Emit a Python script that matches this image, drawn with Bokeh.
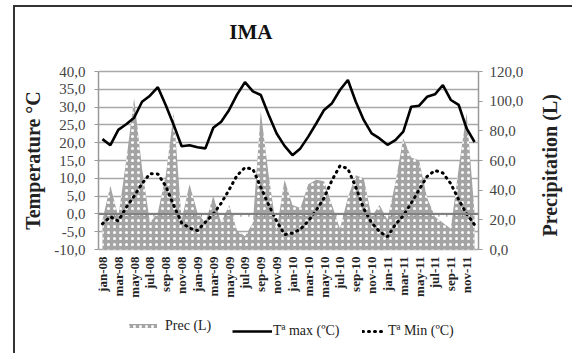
import math
from bokeh.plotting import figure
from bokeh.models import (Range1d, LinearAxis, FixedTicker, CustomJSTickFormatter, Span,
                          Legend, LegendItem, ColumnDataSource)
from bokeh.core.properties import value
from bokeh.embed import file_html
from bokeh.resources import INLINE

month_abbr = ["jan", "feb", "mar", "apr", "may", "jun", "jul", "aug", "sep", "oct", "nov", "dec"]
years = ["08", "09", "10", "11"]
months = [f"{m}-{y}" for y in years for m in month_abbr]

tmax = [21.0, 19.3, 23.6, 25.2, 27.0, 31.5, 33.2, 35.6, 30.5, 25.0, 19.0, 19.3,
        18.7, 18.4, 24.2, 25.9, 29.2, 33.5, 37.0, 34.4, 33.4, 27.8, 22.6, 19.1,
        16.5, 18.4, 21.7, 25.4, 29.2, 31.1, 34.8, 37.6, 31.5, 26.4, 22.6, 21.2,
        19.4, 20.7, 23.1, 30.1, 30.4, 32.9, 33.6, 36.2, 32.0, 30.6, 24.0, 20.2]

tmin = [-2.8, -0.8, -2.0, 1.8, 5.0, 8.5, 11.3, 11.2, 7.8, 2.4, -2.5, -4.0,
        -4.7, -2.3, 0.0, 3.0, 6.8, 10.8, 13.0, 12.6, 7.5, 2.5, -2.0, -5.8,
        -5.4, -4.3, -2.0, 1.0, 4.5, 9.5, 13.5, 12.7, 7.5, 1.5, -2.5, -5.0,
        -6.4, -3.0, -0.5, 3.0, 6.8, 10.5, 12.2, 11.5, 8.5, 4.0, 0.0, -3.0]

prec = [20, 43, 22, 60, 102, 55, 18, 25, 50, 92, 20, 44,
        25, 18, 36, 18, 30, 13, 9, 18, 93, 50, 13, 47,
        30, 28, 44, 47, 46, 30, 14, 35, 50, 48, 22, 30,
        20, 45, 75, 62, 60, 35, 22, 18, 14, 55, 92, 25]

temp_ticks = [-10, -5, 0, 5, 10, 15, 20, 25, 30, 35, 40]
prec_ticks = [0, 20, 40, 60, 80, 100, 120]

title_text = "IMA"
temp_label = "Temperature °C"
prec_label = "Precipitation (L)"
legend_labels = ["Prec (L)", "Tª max (ºC)", "Tª Min (ºC)"]

n = len(months)
xs = [i + 0.5 for i in range(n)]
src = ColumnDataSource(dict(x=xs, tmax=tmax, tmin=tmin, prec=prec))

SERIF = "Liberation Serif"

# ---- page geometry (pixels) ----
OX, OY = 15, 7                     # canvas offset inside the framed page
W, H = 574, 355
FL, FR = 98, 492                   # plot area left / right
YT, YB = 71, 249                   # pixel rows of the 40 and -10 gridlines
t_lo, t_hi = temp_ticks[0], temp_ticks[-1]
ppu = (YB - YT) / (t_hi - t_lo)    # pixels per degree
ppx = (FR - FL) / n                # pixels per month
y_top = t_hi + (YT - OY) / ppu
y_bot = t_lo - (H - YB) / ppu
ratio = (prec_ticks[-1] - prec_ticks[0]) / (t_hi - t_lo)
prec_top = (y_top - t_lo) * ratio
prec_bot = (y_bot - t_lo) * ratio

def py(row):   # pixel row -> temperature coordinate
    return t_hi - (row - YT) / ppu

def pxx(col):  # pixel column -> month coordinate
    return (col - FL) / ppx

p = figure(width=W - OX, height=H - OY, output_backend="svg", toolbar_location=None,
           x_range=Range1d(0, n), y_range=Range1d(y_bot, y_top),
           min_border_left=FL - OX, min_border_right=W - FR, min_border_top=0,
           min_border_bottom=0, title=None, x_axis_location=None,
           margin=(OY - 2, 0, 0, OX - 2),
           styles={"border-left": "2px solid #333333", "border-top": "2px solid #333333"})
p.extra_y_ranges = {"prec": Range1d(prec_bot, prec_top)}
p.outline_line_color = None
p.background_fill_color = "white"
p.border_fill_color = "white"

p.xgrid.visible = False
p.ygrid.grid_line_color = "#a8a8a8"
p.ygrid.grid_line_width = 1.5

fmt = CustomJSTickFormatter(code="return tick.toFixed(1).replace('.', ',');")

def style_axis(ax):
    ax.major_label_text_font = SERIF
    ax.major_label_text_font_size = "15px"
    ax.major_label_text_color = "#444444"
    ax.axis_line_color = "#999999"
    ax.axis_line_width = 1.5
    ax.major_tick_line_color = "#999999"
    ax.major_tick_out = 4
    ax.major_tick_in = 0
    ax.minor_tick_line_color = None

ly = p.yaxis[0]
ly.ticker = FixedTicker(ticks=temp_ticks)
ly.formatter = fmt
ly.bounds = (t_lo, t_hi)
style_axis(ly)
ly.major_label_standoff = 9

ry = LinearAxis(y_range_name="prec", ticker=FixedTicker(ticks=prec_ticks), formatter=fmt,
                bounds=(prec_ticks[0], prec_ticks[-1]))
style_axis(ry)
ry.major_label_standoff = 7
p.add_layout(ry, "right")

# axis titles as single-tick label axes (outer side)
t_mid = (t_lo + t_hi) / 2
lt = LinearAxis(ticker=FixedTicker(ticks=[t_mid]), major_label_overrides={t_mid: temp_label},
                major_label_orientation="vertical", axis_line_color=None,
                major_tick_line_color=None, minor_tick_line_color=None,
                major_label_standoff=2, major_label_text_font=SERIF,
                major_label_text_font_size="20px", major_label_text_font_style="bold",
                major_label_text_color="#222222")
p.add_layout(lt, "left")
r_anchor = py(236)
rt = LinearAxis(ticker=FixedTicker(ticks=[r_anchor]), major_label_overrides={r_anchor: prec_label},
                major_label_orientation=math.pi / 2, axis_line_color=None,
                major_tick_line_color=None, minor_tick_line_color=None,
                major_label_standoff=17, major_label_text_font=SERIF,
                major_label_text_font_size="20px", major_label_text_font_style="bold",
                major_label_text_color="#222222")
p.add_layout(rt, "right")

# precipitation area
area = p.varea(x="x", y1=0, y2="prec", source=src, y_range_name="prec",
               fill_color="#a4a4a4", hatch_pattern="dot", hatch_color="white",
               hatch_scale=6, hatch_weight=1.5)

zero = Span(location=0, dimension="width", line_color="#808080", line_width=2)
p.add_layout(zero)
bounds = list(range(n + 1))
p.segment(x0=bounds, y0=[0] * len(bounds), x1=bounds, y1=[-0.8] * len(bounds),
          line_color="#808080", line_width=1)

lmax = p.line(x="x", y="tmax", source=src, line_color="black", line_width=2.6)
lmin = p.line(x="x", y="tmin", source=src, line_color="black", line_width=3,
              line_dash="1 5", line_cap="round")

# month labels under the plot area
lab_x = [xs[i] for i in range(0, n, 2)]
lab_t = [months[i] for i in range(0, n, 2)]
p.text(x=lab_x, y=[py(256)] * len(lab_x), text=lab_t, angle=math.pi / 2,
       text_align="right", text_baseline="middle", text_font=value(SERIF),
       text_font_size="13px", text_font_style="bold", text_color="#222222")

# title
p.text(x=[pxx(256)], y=[py(31.5)], text=[title_text], text_align="center",
       text_baseline="middle", text_font=value(SERIF), text_font_size="21px",
       text_font_style="bold", text_color="#111111")

def mk_legend(label, rend, loc, gw, gh, standoff):
    lg = Legend(items=[LegendItem(label=label, renderers=[rend])], location=loc,
                orientation="horizontal", glyph_width=gw, glyph_height=gh,
                label_height=gh, label_standoff=standoff, padding=0, margin=0,
                border_line_color=None, background_fill_alpha=0,
                label_text_font=SERIF, label_text_font_size="14px",
                label_text_color="#222222")
    p.add_layout(lg)

mk_legend(legend_labels[0], area, (125 - FL, H - 333.5), 35, 5, 5)
mk_legend(legend_labels[1], lmax, (232 - FL, H - 339), 40, 16, 1)
mk_legend(legend_labels[2], lmin, (362 - FL, H - 339), 23, 16, 3)

open("out.html", "w").write(file_html(p, INLINE))
